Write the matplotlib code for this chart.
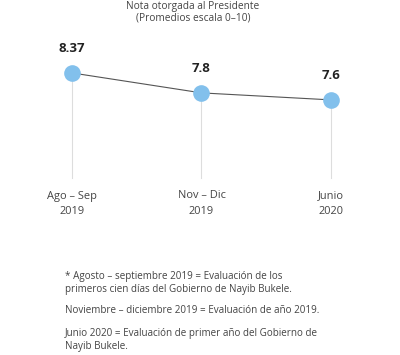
import matplotlib
matplotlib.use("Agg")
import matplotlib.pyplot as plt

plt.rcParams["font.family"] = ["Open Sans", "DejaVu Sans"]

# ---------------- data ----------------
periodos = ["Ago – Sep\n2019", "Nov – Dic\n2019", "Junio\n2020"]
notas = [8.37, 7.8, 7.6]
etiquetas = ["8.37", "7.8", "7.6"]

titulo = "Nota otorgada al Presidente\n(Promedios escala 0–10)"
notas_pie = [
    "* Agosto – septiembre 2019 = Evaluación de los\nprimeros cien días del Gobierno de Nayib Bukele.",
    "Noviembre – diciembre 2019 = Evaluación de año 2019.",
    "Junio 2020 = Evaluación de primer año del Gobierno de\nNayib Bukele.",
]

W, H = 400, 355
fig = plt.figure(figsize=(W / 100, H / 100), dpi=100)
fig.patch.set_facecolor("white")

ax = fig.add_axes([72 / W, 1 - 178 / H, (331 - 72) / W, (178 - 40) / H])
ax.set_xlim(0, 2)
ax.set_ylim(5.37, 9.31)
ax.axis("off")

xs = list(range(len(notas)))
ymin = ax.get_ylim()[0]

# vertical guides
for x, v in zip(xs, notas):
    ax.plot([x, x], [ymin, v], color="#dddddd", lw=0.8, zorder=1, clip_on=False)

ax.plot(xs, notas, color="#555555", lw=0.8, zorder=2, clip_on=False)
ax.plot(xs, notas, "o", ms=12, color="#82c0ec", mec="none", zorder=3, clip_on=False)

for x, v, t in zip(xs, notas, etiquetas):
    ax.annotate(t, (x, v), xytext=(0, 13), textcoords="offset points",
                ha="center", va="bottom", fontsize=9.5, fontweight="bold",
                color="#222222")

for x, p in zip(xs, periodos):
    ax.annotate(p, (x, ymin), xytext=(0, -9), textcoords="offset points",
                ha="center", va="top", fontsize=7.9, color="#444444",
                linespacing=1.55)

fig.text(193 / W, 1 - 1 / H, titulo, ha="center", va="top", fontsize=7.3,
         color="#444444", linespacing=1.05)

y_pie = [271, 305, 328]
for y, t in zip(y_pie, notas_pie):
    fig.text(65 / W, 1 - y / H, t, ha="left", va="top", fontsize=7.1,
             color="#444444", linespacing=1.3)

fig.savefig("out.png", dpi=100, facecolor="white")
